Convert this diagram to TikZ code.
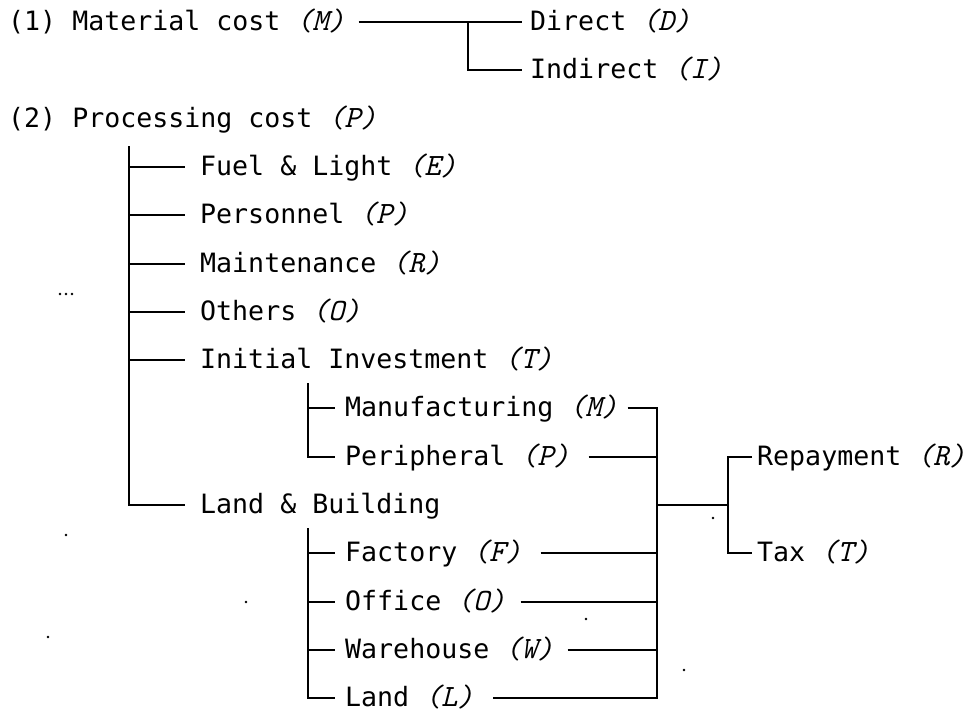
\documentclass[tikz,border=0pt]{standalone}
\usepackage{fontspec}
\newfontfamily\typew{DejaVu Sans Mono}
% italic code letter in parentheses, each glyph on the 16pt typewriter pitch
\newcommand\tagl[1]{{\ttfamily\itshape\fontsize{31pt}{31pt}\selectfont
  \makebox[16pt]{(}\makebox[16pt]{#1}\makebox[16pt]{)}}}
\tikzset{
  lbl/.style={anchor=west, inner sep=0pt, text height=20pt, text depth=3pt,
              font=\typew\fontsize{26.6pt}{30pt}\selectfont},
  wire/.style={line width=2pt, black},
  speck/.style={fill=black, draw=none}
}
\begin{document}
\begin{tikzpicture}[x=1pt,y=-1pt]
\useasboundingbox (0,0) rectangle (970,713);

% labels
\node[lbl] (mat)   at (8,22)      {(1) Material cost \tagl{M}};
\node[lbl] (dir)   at (530,22)    {Direct \tagl{D}};
\node[lbl] (ind)   at (530,70.3)  {Indirect \tagl{I}};
\node[lbl] (proc)  at (8,118.6)   {(2) Processing cost \tagl{P}};
\node[lbl] (fuel)  at (200,166.9) {Fuel \& Light \tagl{E}};
\node[lbl] (pers)  at (200,215.2) {Personnel \tagl{P}};
\node[lbl] (mnt)   at (200,263.5) {Maintenance \tagl{R}};
\node[lbl] (oth)   at (200,311.8) {Others \tagl{O}};
\node[lbl] (init)  at (200,360.1) {Initial Investment \tagl{T}};
\node[lbl] (manu)  at (345,408.4) {Manufacturing \tagl{M}};
\node[lbl] (peri)  at (345,456.7) {Peripheral \tagl{P}};
\node[lbl] (landb) at (200,505)   {Land \& Building};
\node[lbl] (fact)  at (345,553.3) {Factory \tagl{F}};
\node[lbl] (off)   at (345,601.6) {Office \tagl{O}};
\node[lbl] (ware)  at (345,649.9) {Warehouse \tagl{W}};
\node[lbl] (land)  at (345,698.2) {Land \tagl{L}};
\node[lbl] (rep)   at (757,456.7) {Repayment \tagl{R}};
\node[lbl] (tax)   at (757,553.3) {Tax \tagl{T}};

% junction points
\coordinate (mj)   at (468,22);
\coordinate (ptop) at (129,146);
\coordinate (itop) at (308,383);
\coordinate (ltop) at (308,528);
\coordinate (rtop) at (657,408.4);
\coordinate (rbot) at (657,698.2);
\coordinate (rmid) at (657,505);
\coordinate (tj)   at (728,505);

% material cost
\draw[wire] ([xshift=14pt]mat.east) -- ([xshift=-8pt]dir.west);
\draw[wire] (mj) |- ([xshift=-8pt]ind.west);

% processing cost
\draw[wire] (ptop) |- ([xshift=-15pt]landb.west);
\foreach \n in {fuel,pers,mnt,oth,init}
  \draw[wire] (ptop |- \n.west) -- ([xshift=-15pt]\n.west);

% initial investment
\draw[wire] (itop) |- ([xshift=-10pt]peri.west);
\draw[wire] (itop |- manu.west) -- ([xshift=-10pt]manu.west);

% land & building
\draw[wire] (ltop) |- ([xshift=-10pt]land.west);
\foreach \n in {fact,off,ware}
  \draw[wire] (ltop |- \n.west) -- ([xshift=-10pt]\n.west);

% collector on the right
\draw[wire] ([xshift=10pt]manu.east) -- (rtop) -- (rbot) -- ([xshift=20pt]land.east);
\draw[wire] ([xshift=19pt]peri.east) -- (rtop |- peri.west);
\draw[wire] ([xshift=19pt]fact.east) -- (rtop |- fact.west);
\draw[wire] ([xshift=15pt]off.east)  -- (rtop |- off.west);
\draw[wire] ([xshift=14pt]ware.east) -- (rtop |- ware.west);
\draw[wire] (rmid) -- (tj);
\draw[wire] ([xshift=-5pt]rep.west) -| (tj) |- ([xshift=-5pt]tax.west);

% stray specks
\foreach \p in {(60,294),(66,294),(72,294),(66,535),(48,637),(246,602),(713,518),(586,619),(684,670)}
  \fill[speck] \p circle (1.3pt);
\end{tikzpicture}
\end{document}
